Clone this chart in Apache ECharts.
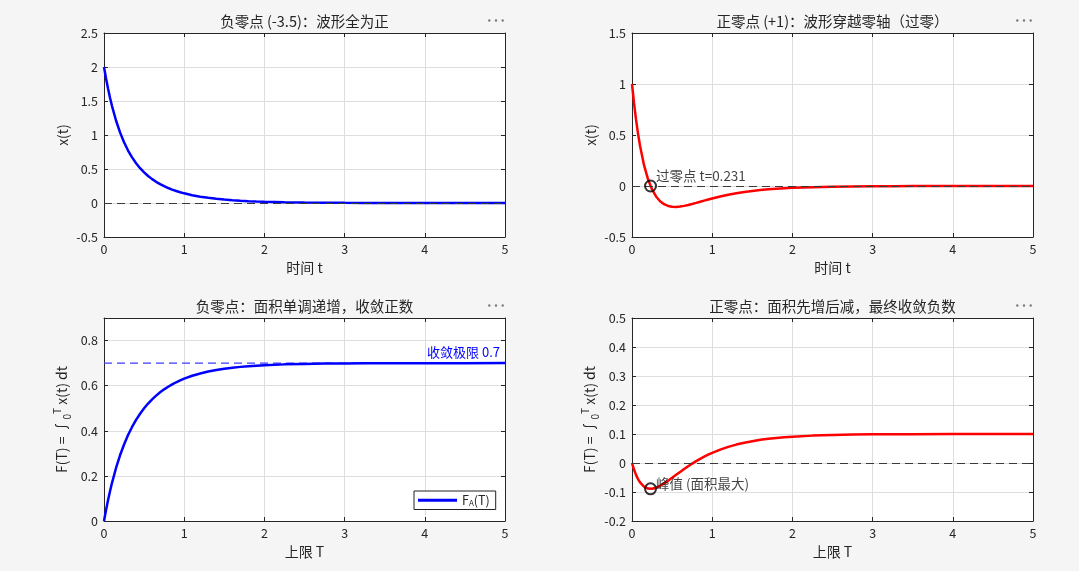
<!DOCTYPE html>
<html><head><meta charset="utf-8">
<script src="https://cdn.jsdelivr.net/npm/echarts@6/dist/echarts.min.js"></script>
<style>html,body{margin:0;padding:0;background:#f5f5f5;}#c{width:1079px;height:571px;}</style>
</head><body><div id="c"></div>
<script>
// ---- data ----
const tVals = [0,0.025,0.05,0.075,0.1,0.15,0.2,0.25,0.3,0.35,0.4,0.45,0.5,0.55,0.6,0.65,0.7,0.75,0.8,0.85,0.9,0.95,1.0,1.1,1.2,1.3,1.4,1.5,1.6,1.7,1.8,1.9,2.0,2.25,2.5,2.75,3.0,3.25,3.5,4.0,4.5,5.0];
const xNeg = [2,1.8337,1.6836,1.5480,1.4253,1.2132,1.0382,0.8930,0.7719,0.6704,0.5847,0.5120,0.4500,0.3968,0.3510,0.3113,0.2768,0.2466,0.2202,0.1969,0.1764,0.1582,0.1421,0.1149,0.0932,0.0758,0.0617,0.0503,0.0411,0.0336,0.0274,0.0224,0.0184,0.0111,0.0067,0.0041,0.0025,0.0015,0.0009,0.0003,0.0001,0.0000];
const xPos = [1,0.8138,0.6528,0.5139,0.3943,0.2039,0.0654,-0.0335,-0.1026,-0.1490,-0.1787,-0.1958,-0.2037,-0.2050,-0.2016,-0.1950,-0.1862,-0.1761,-0.1653,-0.1542,-0.1431,-0.1323,-0.1219,-0.1026,-0.0858,-0.0713,-0.0590,-0.0487,-0.0401,-0.0330,-0.0271,-0.0222,-0.0182,-0.0111,-0.0067,-0.0041,-0.0025,-0.0015,-0.0009,-0.0003,-0.0001,0.0000];
const FNeg = [0,0.0479,0.0918,0.1322,0.1693,0.2351,0.2913,0.3394,0.3810,0.4170,0.4483,0.4756,0.4996,0.5208,0.5394,0.5560,0.5707,0.5837,0.5954,0.6058,0.6151,0.6235,0.6310,0.6438,0.6541,0.6626,0.6694,0.6750,0.6796,0.6833,0.6863,0.6888,0.6908,0.6944,0.6966,0.6980,0.6988,0.6992,0.6995,0.6998,0.6999,0.7000];
const FPos = [0,-0.0226,-0.0409,-0.0554,-0.0668,-0.0815,-0.0880,-0.0887,-0.0852,-0.0788,-0.0705,-0.0611,-0.0511,-0.0409,-0.0307,-0.0208,-0.0112,-0.0022,0.0064,0.0144,0.0218,0.0287,0.0350,0.0462,0.0556,0.0635,0.0700,0.0753,0.0798,0.0834,0.0864,0.0888,0.0909,0.0944,0.0966,0.0980,0.0988,0.0992,0.0995,0.0998,0.0999,0.1000];
const zeroCrossT = 0.231;
const peakF = -0.089;
const limitNeg = 0.7;
const limitSpan = [0, 5];
const titles = ['负零点 (-3.5)：波形全为正','正零点 (+1)：波形穿越零轴（过零）','负零点：面积单调递增，收敛正数','正零点：面积先增后减，最终收敛负数'];
const xNames = ['时间 t','时间 t','上限 T','上限 T'];
const yRanges = [[-0.5,2.5,0.5],[-0.5,1.5,0.5],[0,0.9,0.2],[-0.2,0.5,0.1]];

const FONT = '"Noto Sans CJK SC","Noto Sans",sans-serif';
const TXT = '#262626';
const grids = [
  {left:104, top:33, width:401, height:204},
  {left:632, top:33, width:401, height:204},
  {left:104, top:318, width:401, height:203},
  {left:632, top:318, width:401, height:203}
];
const pair = (xs, ys) => xs.map((x,i)=>[x, ys[i]]);

const xAxis = [], yAxis = [];
grids.forEach((g,i)=>{
  const r = yRanges[i];
  const common = {gridIndex:i, axisLine:{onZero:false,lineStyle:{color:TXT,width:1}},
    axisTick:{inside:true,length:4,lineStyle:{color:TXT}}};
  xAxis.push(Object.assign({}, common, {type:'value', min:0, max:5, interval:1, position:'bottom',
    name:xNames[i], nameLocation:'middle', nameGap:24,
    nameTextStyle:{color:TXT, fontSize:14, fontFamily:FONT},
    axisLabel:{color:TXT, fontSize:12.5, margin:6, fontFamily:FONT},
    splitLine:{show:true, lineStyle:{color:'#dedede', width:1}}}));
  xAxis.push(Object.assign({}, common, {type:'value', min:0, max:5, interval:1, position:'top',
    axisLabel:{show:false}, splitLine:{show:false}}));
  const isF = i>=2;
  yAxis.push(Object.assign({}, common, {type:'value', min:r[0], max:r[1], interval:r[2], position:'left',
    name: isF ? 'F(T) = ∫{s|0}{p|T} x(t) dt' : 'x(t)', nameLocation:'middle', nameGap: isF?32:23,
    nameTextStyle:{color:TXT, fontSize:14, fontFamily:FONT, lineHeight:20,
      rich:{s:{fontSize:10, lineHeight:10, verticalAlign:'bottom', color:TXT, fontFamily:FONT},
            p:{fontSize:10, lineHeight:10, verticalAlign:'top', color:TXT, fontFamily:FONT}}},
    axisLabel:{color:TXT, fontSize:12.5, margin:6, fontFamily:FONT,
      formatter: v => (Math.abs(v - 0.9) < 1e-9 && i===2) ? '' : String(Math.round(v*10)/10)},
    splitLine:{show:true, lineStyle:{color:'#dedede', width:1}}}));
  yAxis.push(Object.assign({}, common, {type:'value', min:r[0], max:r[1], interval:r[2], position:'right',
    axisLabel:{show:false}, splitLine:{show:false}}));
});

const dashBlack = () => ({silent:true, symbol:'none', label:{show:false},
  lineStyle:{color:'#3a3a3a', type:[8,5], width:1.2}, data:[{yAxis:0}]});

const lineCommon = {showSymbol:false, symbol:'none', smooth:false, z:2};
const series = [
  Object.assign({type:'line', name:'xA', xAxisIndex:0, yAxisIndex:0, data:pair(tVals,xNeg),
   lineStyle:{color:'#0000ff', width:2.5}, itemStyle:{color:'#0000ff'}, markLine:dashBlack()}, lineCommon),
  Object.assign({type:'line', name:'xB', xAxisIndex:2, yAxisIndex:2, data:pair(tVals,xPos),
   lineStyle:{color:'#ff0000', width:2.5}, itemStyle:{color:'#ff0000'}, markLine:dashBlack()}, lineCommon),
  {type:'scatter', name:'zc', xAxisIndex:2, yAxisIndex:2, data:[[zeroCrossT,0]], symbol:'circle', symbolSize:11,
   itemStyle:{color:'rgba(0,0,0,0)', borderColor:'#000', borderWidth:2}, z:5,
   label:{show:true, position:'right', distance:-1, offset:[0,-10], formatter:'过零点 t=0.231', color:'#111', fontSize:13.5, fontFamily:FONT}},
  // blue dashed convergence-limit line (drawn under the curve)
  {type:'line', name:'lim', xAxisIndex:4, yAxisIndex:4, data:limitSpan.map(x=>[x, limitNeg]),
   showSymbol:false, symbol:'none', silent:true, z:1,
   lineStyle:{color:'#3d3dff', type:[8,5], width:1.2}, itemStyle:{color:'#3d3dff'},
   endLabel:{show:true, formatter:'收敛极限 0.7', color:'#0000ff', fontSize:13, fontFamily:FONT,
     align:'right', verticalAlign:'bottom', offset:[-13,-5]}},
  Object.assign({type:'line', name:'F_A(T)', xAxisIndex:4, yAxisIndex:4, data:pair(tVals,FNeg),
   lineStyle:{color:'#0000ff', width:2.5}, itemStyle:{color:'#0000ff'}}, lineCommon),
  Object.assign({type:'line', name:'FB', xAxisIndex:6, yAxisIndex:6, data:pair(tVals,FPos),
   lineStyle:{color:'#ff0000', width:2.5}, itemStyle:{color:'#ff0000'}, markLine:dashBlack()}, lineCommon),
  {type:'scatter', name:'pk', xAxisIndex:6, yAxisIndex:6, data:[[zeroCrossT,peakF]], symbol:'circle', symbolSize:11,
   itemStyle:{color:'rgba(0,0,0,0)', borderColor:'#000', borderWidth:2}, z:5,
   label:{show:true, position:'right', distance:-1, offset:[0,-5], formatter:'峰值 (面积最大)', color:'#111', fontSize:13.5, fontFamily:FONT}}
];

const graphic = [];
grids.forEach((g,i)=>{
  graphic.push({type:'text', x:g.left + g.width/2, y:g.top - 11.5,
    style:{text:titles[i], align:'center', verticalAlign:'middle', fill:TXT, font:'14.5px '+FONT}});
  [-6.7,0,6.7].forEach(dx=>{
    graphic.push({type:'circle', shape:{cx:g.left + g.width - 9 + dx, cy:g.top - 12.5, r:1.2},
      style:{fill:'#7a7a7a'}});
  });
});

const chart = echarts.init(document.getElementById('c'));
chart.setOption({
  backgroundColor:'#f5f5f5',
  animation:false,
  grid: grids.map(g=>Object.assign({show:true, backgroundColor:'#fff', borderWidth:0, containLabel:false}, g)),
  xAxis, yAxis, series, graphic,
  legend:{data:[{name:'F_A(T)', icon:'rect'}], left:414, top:491, itemWidth:39, itemHeight:3, itemGap:4,
    backgroundColor:'#fff', borderColor:'#222', borderWidth:1, borderRadius:0, padding:[3,6,3,4],
    formatter:()=> 'F{s|A}(T)',
    textStyle:{color:TXT, fontSize:12.5, fontFamily:FONT, rich:{s:{fontSize:8, verticalAlign:'bottom', lineHeight:8, color:TXT}}}}
});
</script></body></html>
